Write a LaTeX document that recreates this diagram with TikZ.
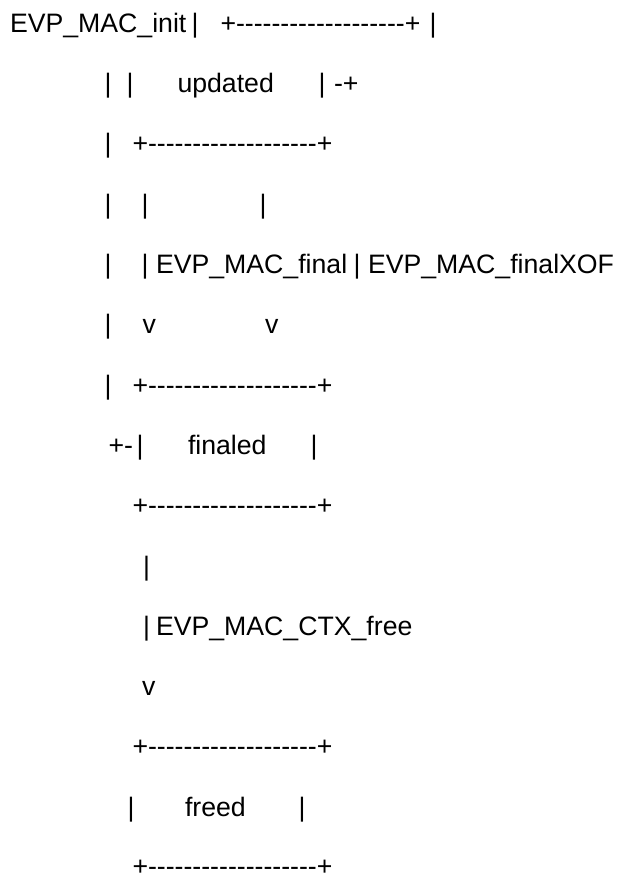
\documentclass[tikz,border=0pt]{standalone}
\usepackage{fontspec}
\setmainfont{Liberation Sans}[Ligatures=TeXOff]
\usepackage{tikz}

\tikzset{
  ascii/.style={anchor=base west, inner sep=0pt, outer sep=0pt,
    font=\fontsize{26.67}{30}\selectfont}
}

\begin{document}
\begin{tikzpicture}[x=1pt,y=-1pt]
                    \useasboundingbox (0,0) rectangle (619,877);

                    % EVP_MAC_init line
                    \node[ascii] (init) at (10,32.3) {EVP\_MAC\_init};
                    \node[ascii] (b1a) at (191.5,32.3) {|};
                    \node[ascii] (uptop) at (220.5,32.3) {+-------------------+};
                    \node[ascii] (b1b) at (429.5,32.3) {|};

                    \node[ascii] (b2a) at (104.5,92.6) {|};
                    \node[ascii] (b2b) at (126.5,92.6) {|};
                    \node[ascii] (updated) at (177.5,92.6) {updated};
                    \node[ascii] (b2c) at (318.5,92.6) {|};
                    \node[ascii] (loop) at (334,92.6) {-+};

                    \node[ascii] (b3a) at (104.5,152.9) {|};
                    \node[ascii] (upbot) at (132.5,152.9) {+-------------------+};

                    \node[ascii] (b4a) at (104.5,213.2) {|};
                    \node[ascii] (b4b) at (141.5,213.2) {|};
                    \node[ascii] (b4c) at (259.5,213.2) {|};

                    % the two finalising calls
                    \node[ascii] (b5a) at (104.5,273.5) {|};
                    \node[ascii] (b5b) at (141.5,273.5) {|};
                    \node[ascii] (final) at (156,273.5) {EVP\_MAC\_final};
                    \node[ascii] (b5c) at (353.5,273.5) {|};
                    \node[ascii] (finalxof) at (368,273.5) {EVP\_MAC\_finalXOF};

                    \node[ascii] (b6a) at (104.5,333.8) {|};
                    \node[ascii] (v6a) at (142.5,333.8) {v};
                    \node[ascii] (v6b) at (265,333.8) {v};

                    \node[ascii] (b7a) at (104.5,394.1) {|};
                    \node[ascii] (fintop) at (132.5,394.1) {+-------------------+};

                    \node[ascii] (back) at (108.5,454.4) {+-};
                    \node[ascii] (b8a) at (136.5,454.4) {|};
                    \node[ascii] (finaled) at (188,454.4) {finaled};
                    \node[ascii] (b8b) at (310.5,454.4) {|};

                    \node[ascii] (finbot) at (132.5,514.7) {+-------------------+};

                    % free
                    \node[ascii] (b10a) at (143,575) {|};
                    \node[ascii] (b11a) at (143,635.3) {|};
                    \node[ascii] (ctxfree) at (156,635.3) {EVP\_MAC\_CTX\_free};
                    \node[ascii] (v12a) at (142,695.6) {v};

                    \node[ascii] (frtop) at (132.5,755.9) {+-------------------+};
                    \node[ascii] (b14a) at (127.5,816.2) {|};
                    \node[ascii] (freed) at (185,816.2) {freed};
                    \node[ascii] (b14b) at (298.5,816.2) {|};
                    \node[ascii] (frbot) at (132.5,875.5) {+-------------------+};
                \end{tikzpicture}
\end{document}
